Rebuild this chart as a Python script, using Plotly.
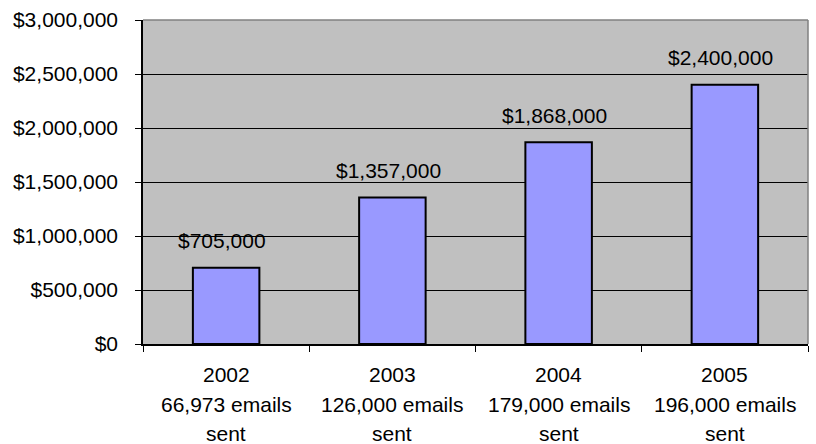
import plotly.graph_objects as go

years = ["2002", "2003", "2004", "2005"]
emails = ["66,973 emails", "126,000 emails", "179,000 emails", "196,000 emails"]
emails_tail = ["sent", "sent", "sent", "sent"]
revenue = [705000, 1357000, 1868000, 2400000]
revenue_labels = ["$705,000", "$1,357,000", "$1,868,000", "$2,400,000"]
y_ticks = [0, 500000, 1000000, 1500000, 2000000, 2500000, 3000000]
y_tick_labels = ["$0", "$500,000", "$1,000,000", "$1,500,000", "$2,000,000", "$2,500,000", "$3,000,000"]

FONT = "Liberation Sans, Arial, sans-serif"
FS = 21

pos = list(range(len(years)))

fig = go.Figure()
fig.add_trace(go.Bar(
    x=pos, y=revenue, width=0.4,
    marker=dict(color="#9999FF", line=dict(color="black", width=2)),
    hoverinfo="skip",
))

annotations = []
for p, val, lab in zip(pos, revenue, revenue_labels):
    annotations.append(dict(x=p, y=val, xref="x", yref="y", text=lab, showarrow=False,
                            yanchor="middle", xanchor="center", yshift=27, xshift=-4,
                            font=dict(family=FONT, size=FS, color="black")))
for p, yr, em, tail in zip(pos, years, emails, emails_tail):
    for line, shift in ((yr, -30), (em, -60), (tail, -89)):
        annotations.append(dict(x=p, y=0, xref="x", yref="paper", text=line, showarrow=False,
                                yanchor="middle", xanchor="center", yshift=shift,
                                font=dict(family=FONT, size=FS, color="black")))

boundaries = [p - 0.5 for p in pos] + [pos[-1] + 0.5]

fig.update_layout(
    width=816, height=444,
    margin=dict(l=143, r=8, t=17, b=100),
    paper_bgcolor="white", plot_bgcolor="#C0C0C0",
    showlegend=False,
    font=dict(family=FONT, size=FS, color="black"),
    annotations=annotations,
    shapes=[
        dict(type="line", xref="paper", yref="paper", x0=0, x1=1, y0=1, y1=1,
             line=dict(color="#808080", width=1.5)),
        dict(type="line", xref="paper", yref="paper", x0=1, x1=1, y0=0, y1=1,
             line=dict(color="#808080", width=1.5)),
    ],
    xaxis=dict(
        range=[-0.5, len(years) - 0.5], tickvals=boundaries,
        showticklabels=False, showgrid=False,
        showline=True, linecolor="black", linewidth=1.5,
        ticks="outside", ticklen=6, tickcolor="black", tickwidth=1,
        zeroline=False,
    ),
    yaxis=dict(
        range=[0, 3000000], tickvals=y_ticks, ticktext=y_tick_labels,
        showgrid=True, gridcolor="black", gridwidth=1,
        showline=True, linecolor="black", linewidth=1.5,
        ticks="outside", ticklen=6, tickcolor="black", tickwidth=1,
        ticklabelstandoff=13, zeroline=False,
        tickfont=dict(family=FONT, size=FS, color="black"),
    ),
)

fig.write_html("out.html")
